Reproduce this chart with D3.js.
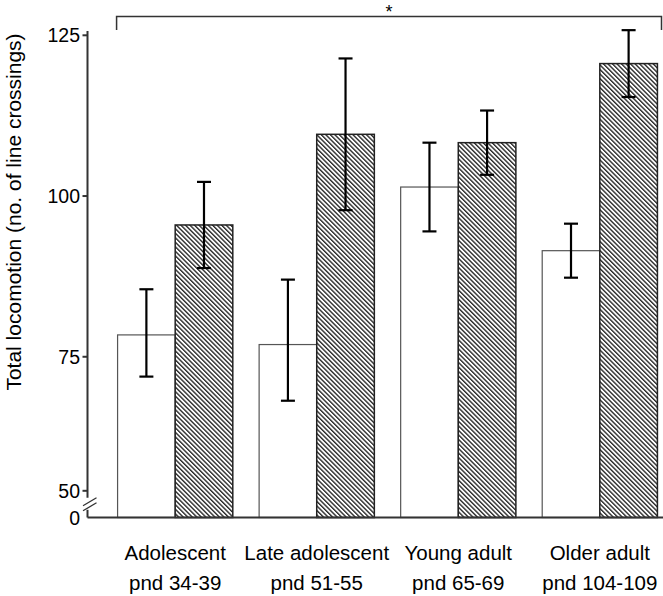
<!DOCTYPE html>
<html><head><meta charset="utf-8">
<script src="https://cdn.jsdelivr.net/npm/d3@7"></script>
<style>body{margin:0;background:#fff}svg{display:block}text{font-family:"Liberation Sans",Arial,sans-serif;fill:#000}</style>
</head><body><svg id="c" width="663" height="596"></svg>
<script>
const groups = ["Adolescent","Late adolescent","Young adult","Older adult"];
const subLabels = ["pnd 34-39","pnd 51-55","pnd 65-69","pnd 104-109"];
const seriesA = [78.4, 76.9, 101.4, 91.5];   // open bars
const errA    = [7.1, 10.1, 6.9, 4.2];
const seriesB = [95.5, 109.6, 108.3, 120.6]; // hatched bars
const errB    = [6.7, 11.8, 5.0, 5.2];
const yTicks = [0, 50, 75, 100, 125];
const tickLabels = ["0","50","75","100","125"];
const yTitle = "Total locomotion (no. of line crossings)";

const svg = d3.select("#c");
const base = 517.5, top125 = 35.3;
const per = (base - top125) / 75;
// broken axis: 0..50 compressed into a short segment below the 50 tick
const y = d3.scaleLinear().domain([0, 50, 75, 125])
  .range([base, base - 26.7, top125 + 50 * per, top125]);

const x0 = d3.scaleBand().domain(groups).range([88, 687]).paddingInner(0.186).paddingOuter(0.209);
const x1 = d3.scaleBand().domain(["A","B"]).range([0, x0.bandwidth()]);

const defs = svg.append("defs");
const pat = defs.append("pattern").attr("id","hatch").attr("patternUnits","userSpaceOnUse")
  .attr("width",3.2).attr("height",10).attr("patternTransform","rotate(-45)");
pat.append("rect").attr("width",3.2).attr("height",10).attr("fill","#fff");
pat.append("line").attr("x1",0.7).attr("x2",0.7).attr("y1",0).attr("y2",10)
  .attr("stroke","#1a1a1a").attr("stroke-width",1.3);

// bars
const g = svg.append("g");
groups.forEach((grp, i) => {
  const gx = x0(grp);
  g.append("rect").attr("x", gx + x1("A")).attr("y", y(seriesA[i]))
    .attr("width", x1.bandwidth()).attr("height", y(0) - y(seriesA[i]))
    .attr("fill","#fff").attr("stroke","#555").attr("stroke-width",1.2);
  g.append("rect").attr("x", gx + x1("B")).attr("y", y(seriesB[i]))
    .attr("width", x1.bandwidth()).attr("height", y(0) - y(seriesB[i]))
    .attr("fill","url(#hatch)").attr("stroke","#222").attr("stroke-width",1.5);
});
// error bars
function err(cx, v, e){
  const eg = svg.append("g").attr("stroke","#000").attr("stroke-width",2.2);
  eg.append("line").attr("x1",cx).attr("x2",cx).attr("y1",y(v+e)).attr("y2",y(v-e));
  [v+e, v-e].forEach(t => eg.append("line").attr("x1",cx-7).attr("x2",cx+7).attr("y1",y(t)).attr("y2",y(t)));
}
groups.forEach((grp, i) => {
  const gx = x0(grp);
  err(gx + x1("A") + x1.bandwidth()/2, seriesA[i], errA[i]);
  err(gx + x1("B") + x1.bandwidth()/2, seriesB[i], errB[i]);
});

// baseline
svg.append("line").attr("x1",87.5).attr("x2",663).attr("y1",y(0)).attr("y2",y(0))
  .attr("stroke","#333").attr("stroke-width",2);
// y axis line with break
const ax = 87.5;
svg.append("line").attr("x1",ax).attr("x2",ax).attr("y1",31).attr("y2",y(50)+7)
  .attr("stroke","#333").attr("stroke-width",2);
svg.append("line").attr("x1",ax).attr("x2",ax).attr("y1",y(50)+19).attr("y2",y(0))
  .attr("stroke","#333").attr("stroke-width",2);
svg.append("line").attr("x1",83).attr("x2",96.5).attr("y1",y(50)+15).attr("y2",y(50)+7)
  .attr("stroke","#333").attr("stroke-width",1.3);
svg.append("line").attr("x1",83).attr("x2",96.5).attr("y1",y(50)+20).attr("y2",y(50)+12)
  .attr("stroke","#333").attr("stroke-width",1.3);
// ticks & labels
yTicks.forEach((t, i) => {
  if (t > 0) svg.append("line").attr("x1",ax-5).attr("x2",ax).attr("y1",y(t)).attr("y2",y(t))
    .attr("stroke","#333").attr("stroke-width",2);
  svg.append("text").attr("x",80).attr("y",y(t)).attr("dy","0.36em")
    .attr("text-anchor","end").attr("font-size",19.5).text(tickLabels[i]);
});
// y title
svg.append("text").attr("transform","translate(21,212) rotate(-90)")
  .attr("text-anchor","middle").attr("font-size",21).text(yTitle);

// x labels
groups.forEach((grp, i) => {
  const cx = x0(grp) + x0.bandwidth()/2;
  svg.append("text").attr("x",cx).attr("y",560).attr("text-anchor","middle").attr("font-size",20.5).text(grp);
  svg.append("text").attr("x",cx).attr("y",590).attr("text-anchor","middle").attr("font-size",20.5).text(subLabels[i]);
});

// significance bracket
const bl = x0(groups[0]) - 1, br = 661.5;
svg.append("path").attr("d",`M${bl},30V16.5H${br}V30`).attr("fill","none")
  .attr("stroke","#333").attr("stroke-width",1.5);
svg.append("text").attr("x",(bl+br)/2).attr("y",18).attr("text-anchor","middle")
  .attr("font-size",18).text("*");
</script></body></html>
